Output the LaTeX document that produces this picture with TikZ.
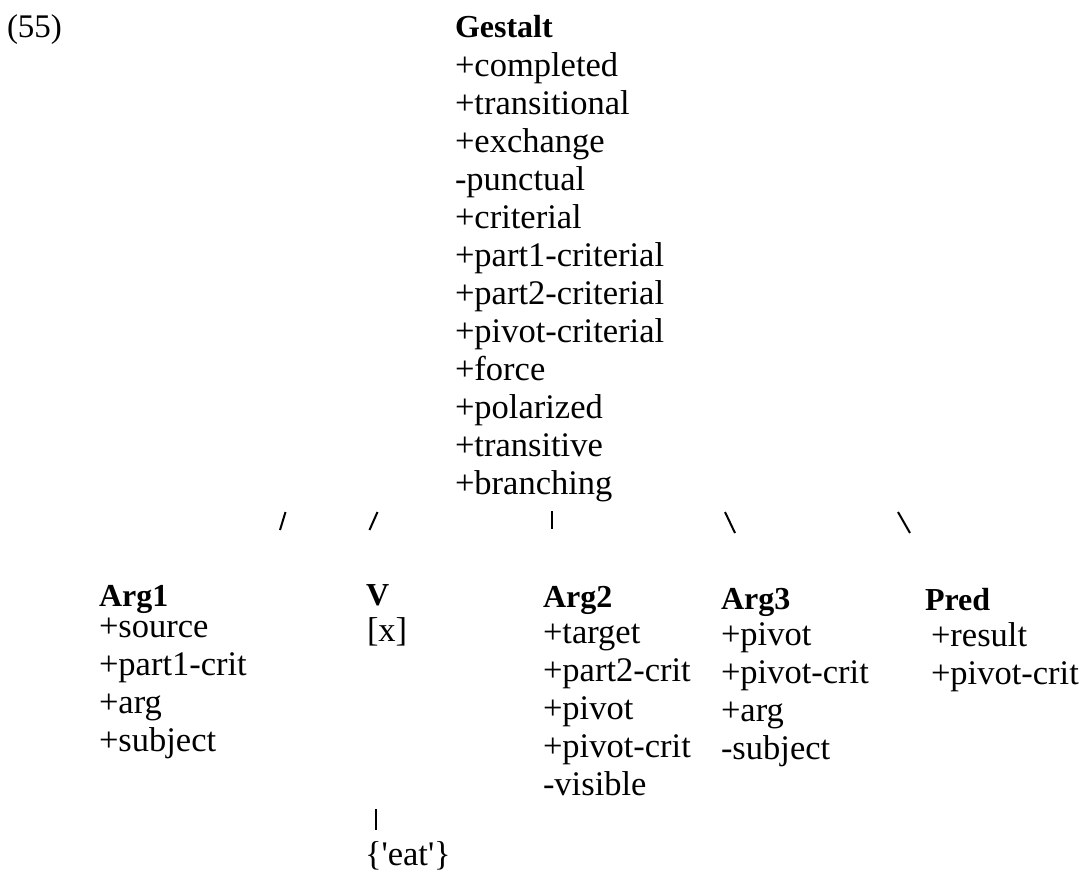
\documentclass[tikz,border=0pt]{standalone}
\usepackage{fontspec}
\setmainfont{Liberation Serif}
\begin{document}
\begin{tikzpicture}[x=1pt,y=-1pt,
  txt/.style={anchor=base west, inner sep=0pt, outer sep=0pt,
              font=\fontsize{34.5}{38}\selectfont},
  hdr/.style={txt, font=\fontsize{32}{38}\selectfont\bfseries},
  tick/.style={line width=2pt}]
\useasboundingbox (0,0) rectangle (1081,876);

% example number
\node[txt, font=\fontsize{33}{38}\selectfont] (num) at (7,37) {(55)};

% top feature bundle
\node[hdr] (gestalt) at (455,37) {Gestalt};
\node[txt] (gfeat) at (455,76) {\begin{tabular}[t]{@{}l@{}}
+completed\\ +transitional\\ +exchange\\ -punctual\\ +criterial\\
+part1-criterial\\ +part2-criterial\\ +pivot-criterial\\ +force\\
+polarized\\ +transitive\\ +branching\end{tabular}};

% branch marks
\coordinate (b1t) at (285.5,512); \coordinate (b1b) at (280,530);
\coordinate (b2t) at (377.5,512); \coordinate (b2b) at (369.5,530);
\coordinate (b3t) at (552,511);   \coordinate (b3b) at (552,529);
\coordinate (b4t) at (725,512);   \coordinate (b4b) at (735,533);
\coordinate (b5t) at (898,512);   \coordinate (b5b) at (910,533);
\draw[tick] (b1t) -- (b1b);
\draw[tick] (b2t) -- (b2b);
\draw[tick] (b3t) -- (b3b);
\draw[tick] (b4t) -- (b4b);
\draw[tick] (b5t) -- (b5b);

% daughters
\node[hdr] (arg1) at (99,606) {Arg1};
\node[txt] (arg1f) at (99,637) {\begin{tabular}[t]{@{}l@{}}
+source\\ +part1-crit\\ +arg\\ +subject\end{tabular}};

\node[hdr] (v) at (366,605) {V};
\node[txt] (vf) at (367,641) {[x]};

\node[hdr] (arg2) at (543,607) {Arg2};
\node[txt] (arg2f) at (543,643) {\begin{tabular}[t]{@{}l@{}}
+target\\ +part2-crit\\ +pivot\\ +pivot-crit\\ -visible\end{tabular}};

\node[hdr] (arg3) at (721,609) {Arg3};
\node[txt] (arg3f) at (721,645) {\begin{tabular}[t]{@{}l@{}}
+pivot\\ +pivot-crit\\ +arg\\ -subject\end{tabular}};

\node[hdr] (pred) at (925,610) {Pred};
\node[txt] (predf) at (931,646) {\begin{tabular}[t]{@{}l@{}}
+result\\ +pivot-crit\end{tabular}};

% lexical item under V
\coordinate (vlt) at (376,809); \coordinate (vlb) at (376,830);
\draw[tick] (vlt) -- (vlb);
\node[txt] (eat) at (365,865) {\{\textquotesingle eat\textquotesingle\}};
\end{tikzpicture}
\end{document}
